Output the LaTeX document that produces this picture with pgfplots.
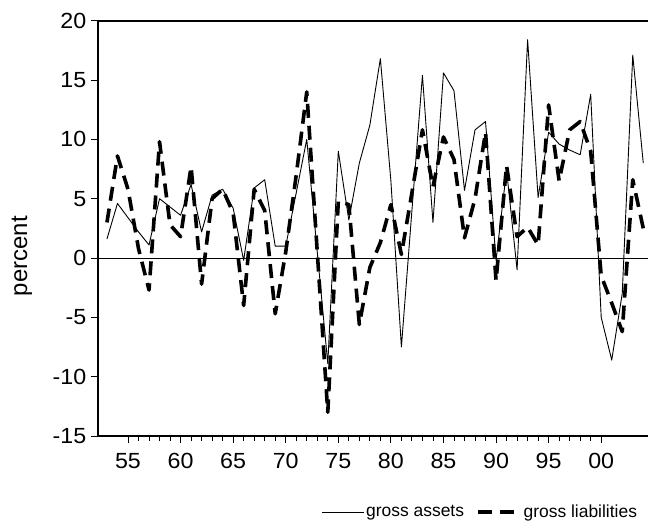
\documentclass[border=0pt]{standalone}
\usepackage{fontspec}
\setmainfont{Liberation Sans}
\newfontfamily\tickfont[FakeStretch=1.06]{Liberation Sans}
\usepackage{pgfplots}
\usepackage{pgfplotstable}
\pgfplotsset{compat=1.18}

% year (53 = 1953 ... 104 = 2004), growth in percent
\pgfplotstableread{
yr  assets  liab
53   1.6    3.0
54   4.6    8.6
55   3.4    5.8
56   2.2    0.8
57   1.1   -2.7
58   5.0    9.8
59   4.3    2.8
60   3.6    1.8
61   6.2    7.7
62   2.2   -2.2
63   5.3    5.0
64   5.8    5.8
65   4.2    3.8
66  -0.2   -4.0
67   5.9    5.8
68   6.6    4.0
69   1.0   -4.7
70   1.0    0.5
71   5.5    7.0
72  10.0   14.0
73   0.5    0.5
74  -8.9  -13.0
75   9.0    4.8
76   3.2    4.5
77   8.0   -5.6
78  11.2   -0.8
79  16.8    1.3
80   6.5    4.5
81  -7.5    0.3
82   4.0    5.5
83  15.4   10.8
84   3.0    6.0
85  15.6   10.2
86  14.1    8.3
87   5.7    1.7
88  10.8    5.0
89  11.5   10.6
90  -0.2   -1.9
91   7.4    7.8
92  -1.0    1.8
93  18.4    2.6
94   5.1    1.1
95  10.6   12.9
96   9.6    6.5
97   9.1   10.8
98   8.7   11.5
99  13.8    9.0
100 -5.0   -1.5
101 -8.6   -3.8
102 -3.0   -6.2
103 17.1    6.6
104  8.0    2.5
}\growth

\begin{document}
\begin{tikzpicture}
\begin{axis}[
    name=ax,
    scale only axis,
    width=550.3bp, height=415.3bp,
    xmin=52.12, xmax=104.45,
    ymin=-15, ymax=20,
    axis x line*=box, axis y line*=left,
    axis line style={line width=1.8bp},
    xtick pos=bottom, ytick pos=left,
    tick align=outside,
    major tick length=7bp, minor tick length=4.5bp,
    every tick/.style={black, line width=0.9bp},
    xtick={55,60,...,100},
    xticklabels={55,60,65,70,75,80,85,90,95,00},
    minor x tick num=4,
    ytick={-15,-10,...,20},
    yticklabels={-15,-10,-5,0,5,10,15,20},
    ticklabel style={font=\tickfont\fontsize{22}{24}\selectfont},
    xticklabel style={yshift=-7bp},
    yticklabel style={xshift=-1bp},
    extra y ticks={0},
    extra y tick labels={},
    extra y tick style={grid=major, major grid style={black, line width=0.9bp}, major tick length=0pt},
    ylabel={percent},
    ylabel style={at={(axis description cs:-0.1376,0.433)}, anchor=center, font=\fontsize{24}{26}\selectfont},
    clip=true,
    legend columns=2,
    legend style={at={(axis description cs:0.695,-0.183)}, anchor=center, draw=none,
        font=\fontsize{17.5}{20}\selectfont,
        /tikz/every even column/.append style={column sep=10bp}},
    legend image code/.code={\draw[#1] (0bp,0bp) -- (42bp,0bp);},
]
\addplot[black, line width=0.9bp, line join=round] table[x=yr, y=assets] {\growth};
\addlegendentry{gross assets}
\addplot[black, line width=3.6bp, line join=round, dash pattern=on 14bp off 8bp] table[x=yr, y=liab] {\growth};
\addlegendentry{gross liabilities}
\end{axis}
\pgfresetboundingbox
\path[use as bounding box] ([shift={(-97.7bp,-90bp)}]ax.south west) rectangle ([shift={(0bp,20.7bp)}]ax.north east);
\end{tikzpicture}
\end{document}
